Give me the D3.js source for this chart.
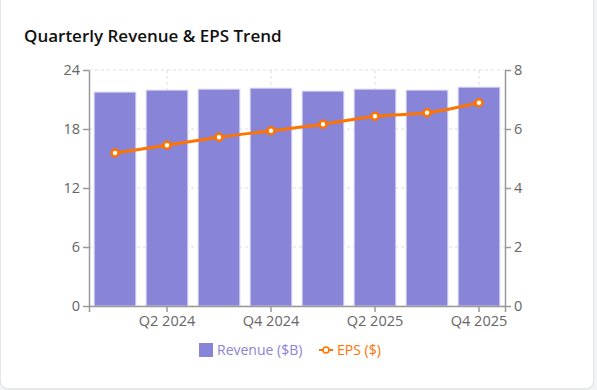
<!DOCTYPE html>
<html lang="en">
<head>
    <meta charset="UTF-8">
    <title>Quarterly Revenue & EPS Trend</title>
    <script src="https://d3js.org/d3.v7.min.js"></script>
    <style>
        body {
            margin: 0;
            background: #f3f4f6;
            font-family: "Segoe UI", "Open Sans", "Noto Sans", sans-serif;
            overflow: hidden;
        }

        .card {
            position: absolute;
            left: 0;
            top: -12px;
            width: 592px;
            height: 399px;
            background: #fff;
            border: 1px solid #e3e5e8;
            border-radius: 8px;
            box-shadow: 0 1px 2px rgba(0,0,0,0.05);
        }

        svg {
            position: absolute;
            left: 0;
            top: 0;
        }

        .tick text {
            font-size: 14.5px;
            fill: #666;
        }
    </style>
</head>
<body>

<div class="card"></div>
<svg id="chart" width="597" height="390"></svg>

<script>
    // podaci
    const quarters = ["Q1 2024", "Q2 2024", "Q3 2024", "Q4 2024", "Q1 2025", "Q2 2025", "Q3 2025", "Q4 2025"];
    const revenue = [21.75, 21.95, 22.05, 22.15, 21.85, 22.05, 21.95, 22.25];
    const eps = [5.19, 5.45, 5.72, 5.94, 6.16, 6.43, 6.55, 6.89];
    const revTicks = [0, 6, 12, 18, 24];
    const epsTicks = [0, 2, 4, 6, 8];

    const margin = { top: 70, right: 92, bottom: 84, left: 89 },
          width = 597 - margin.left - margin.right,
          height = 390 - margin.top - margin.bottom;

    const svg = d3.select("#chart");

    svg.append("text")
       .attr("x", 24)
       .attr("y", 42)
       .attr("font-size", 17)
       .attr("font-weight", 600)
       .attr("fill", "#111")
       .text("Quarterly Revenue & EPS Trend");

    const g = svg.append("g")
                 .attr("transform", `translate(${margin.left},${margin.top})`);

    const x = d3.scaleBand()
                .domain(quarters)
                .range([0, width])
                .paddingInner(0.2)
                .paddingOuter(0.1);

    const yL = d3.scaleLinear().domain([0, 24]).range([height, 0]);
    const yR = d3.scaleLinear().domain([0, 8]).range([height, 0]);

    const shown = quarters.filter((d, i) => i % 2 === 1);

    // mreža
    const grid = g.append("g")
                  .attr("stroke", "#ddd")
                  .attr("stroke-dasharray", "3 3");

    grid.selectAll(".h")
        .data(revTicks)
        .join("line")
        .attr("x1", 0)
        .attr("x2", width)
        .attr("y1", d => yL(d))
        .attr("y2", d => yL(d));

    grid.selectAll(".v")
        .data(shown)
        .join("line")
        .attr("x1", d => x(d) + x.bandwidth() / 2)
        .attr("x2", d => x(d) + x.bandwidth() / 2)
        .attr("y1", 0)
        .attr("y2", height);

    // stupci
    g.selectAll(".bar")
     .data(revenue)
     .join("rect")
     .attr("class", "bar")
     .attr("x", (d, i) => x(quarters[i]))
     .attr("y", d => yL(d))
     .attr("width", x.bandwidth())
     .attr("height", d => height - yL(d))
     .attr("fill", "#8884d8")
     .attr("stroke", "#d4d2f2")
     .attr("stroke-width", 1);

    // osi
    const axisStyle = sel => {
        sel.select(".domain").attr("stroke", "#999").attr("stroke-width", 1.5);
        sel.selectAll(".tick line").attr("stroke", "#999").attr("stroke-width", 1.5);
    };

    g.append("g")
     .attr("transform", `translate(0,${height})`)
     .call(d3.axisBottom(x).tickValues(shown).tickSizeOuter(0).tickSize(6).tickPadding(4))
     .attr("font-family", null)
     .call(axisStyle);

    g.append("g")
     .call(d3.axisLeft(yL).tickValues(revTicks).tickSize(6).tickSizeOuter(0).tickPadding(3))
     .attr("font-family", null)
     .call(axisStyle);

    g.append("g")
     .attr("transform", `translate(${width},0)`)
     .call(d3.axisRight(yR).tickValues(epsTicks).tickSize(6).tickSizeOuter(0).tickPadding(3))
     .attr("font-family", null)
     .call(axisStyle);

    // EPS linija
    const line = d3.line()
                   .x((d, i) => x(quarters[i]) + x.bandwidth() / 2)
                   .y(d => yR(d))
                   .curve(d3.curveMonotoneX);

    g.append("path")
     .datum(eps)
     .attr("fill", "none")
     .attr("stroke", "#ff7300")
     .attr("stroke-width", 3)
     .attr("d", line);

    g.selectAll(".dot")
     .data(eps)
     .join("circle")
     .attr("cx", (d, i) => x(quarters[i]) + x.bandwidth() / 2)
     .attr("cy", d => yR(d))
     .attr("r", 3.5)
     .attr("fill", "#fff")
     .attr("stroke", "#ff7300")
     .attr("stroke-width", 2.5);

    // legenda
    const legend = svg.append("g").attr("transform", "translate(199,350)");

    legend.append("rect")
          .attr("x", 0).attr("y", -7)
          .attr("width", 14).attr("height", 14)
          .attr("fill", "#8884d8");
    legend.append("text")
          .attr("x", 18).attr("y", 5)
          .attr("font-size", 14)
          .attr("fill", "#8884d8")
          .text("Revenue ($B)");

    legend.append("line")
          .attr("x1", 120).attr("x2", 134)
          .attr("y1", 0).attr("y2", 0)
          .attr("stroke", "#ff7300")
          .attr("stroke-width", 2);
    legend.append("circle")
          .attr("cx", 127).attr("cy", 0).attr("r", 3)
          .attr("fill", "#fff")
          .attr("stroke", "#ff7300")
          .attr("stroke-width", 1.5);
    legend.append("text")
          .attr("x", 138).attr("y", 5)
          .attr("font-size", 14)
          .attr("fill", "#ff7300")
          .text("EPS ($)");
</script>

</body>
</html>
